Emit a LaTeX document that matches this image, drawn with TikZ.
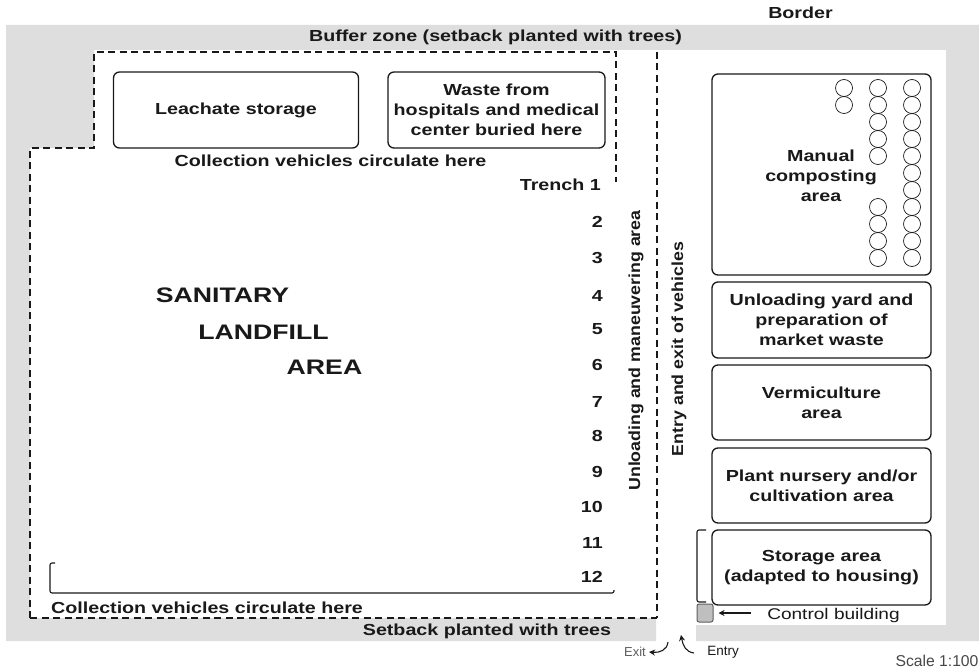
\documentclass[tikz,border=0pt]{standalone}
\usepackage{fontspec}
\setmainfont{Liberation Sans}
\newfontfamily\widefont[FakeStretch=1.23]{Liberation Sans}
\newfontfamily\midfont[FakeStretch=1.11]{Liberation Sans}
\newfontfamily\bigfont[FakeStretch=1.27]{Liberation Sans}
\usetikzlibrary{arrows.meta}
\definecolor{zonegray}{gray}{0.87}
\definecolor{bldgray}{gray}{0.75}
\definecolor{ink}{gray}{0.1}
\tikzset{
  x=1pt,y=-1pt,
  txt/.style={inner sep=0pt,text=ink,align=center,font=\widefont\fontsize{16}{18}\selectfont\bfseries},
  side/.style={txt,rotate=90,font=\midfont\fontsize{16}{18}\selectfont\bfseries},
  big/.style={txt,font=\bigfont\fontsize{21}{24}\selectfont\bfseries},
  thin label/.style={inner sep=0pt,text=ink,font=\widefont\fontsize{15.5}{17}\selectfont},
  area/.style={draw=ink,line width=1.3pt,rounded corners=6pt,inner sep=0pt,align=center,text=ink,font=\widefont\fontsize{16}{20}\selectfont\bfseries},
  dash line/.style={draw=ink,line width=1.7pt,dash pattern=on 7pt off 4.5pt},
  pile/.style={circle,draw=ink,line width=0.7pt,minimum size=17pt,inner sep=0pt},
  num/.style={txt,anchor=east},
  bracket line/.style={draw=ink,line width=1.1pt,rounded corners=2pt},
  pointer/.style={draw=ink,line width=1.1pt,-{Stealth[length=6pt,width=6pt]}}
}
\begin{document}
\begin{tikzpicture}
\useasboundingbox (0,0) rectangle (979,671);
\fill[white] (0,0) rectangle (979,671);
% gray zone
\fill[zonegray] (6,25) -- (979,25) -- (979,641) -- (696,641) -- (696,625) -- (946,625) -- (946,50)
  -- (94,50) -- (94,148) -- (30,148) -- (30,618) -- (656,618) -- (656,641) -- (6,641) -- cycle;
% dashed limits
\draw[dash line] (30,618) -- (30,148) -- (94,148) -- (94,52) -- (616,52) -- (616,182);
\draw[dash line] (30,618) -- (657,618);
\draw[dash line,line width=1.2pt] (657,52) -- (657,618);
% boxes
\node[area,minimum width=245pt,minimum height=76pt] (leach) at (236,110) {Leachate storage};
\node[area,minimum width=217pt,minimum height=76pt] (waste) at (496.5,110) {Waste from\\hospitals and medical\\center buried here};
\node[area,minimum width=219pt,minimum height=201pt] (manual) at (821.5,174.5) {};
\node[area,minimum width=219pt,minimum height=76pt] (unload) at (821.5,320) {Unloading yard and\\preparation of\\market waste};
\node[area,minimum width=219pt,minimum height=75pt] (vermi) at (821.5,402.5) {Vermiculture\\area};
\node[area,minimum width=219pt,minimum height=75pt] (nursery) at (821.5,485.5) {Plant nursery and/or\\cultivation area};
\node[area,minimum width=219pt,minimum height=75pt] (storage) at (821.5,567.5) {Storage area\\(adapted to housing)};
\node[txt,font=\widefont\fontsize{16}{20}\selectfont\bfseries] (mantxt) at (821,176) {Manual\\composting\\area};
% composting piles
\foreach \yy [count=\i] in {88,105} \node[pile] (a\i) at (844,\yy) {};
\foreach \yy [count=\i] in {88,105,122,139,156,207,224,241,258} \node[pile] (b\i) at (878,\yy) {};
\foreach \yy [count=\i] in {88,105,122,139,156,173,190,207,224,241,258} \node[pile] (c\i) at (912,\yy) {};
% labels
\node[txt] (border) at (800.5,13) {Border};
\node[txt] (buffer) at (495.5,37) {Buffer zone (setback planted with trees)};
\node[txt] (coll1) at (330.5,161) {Collection vehicles circulate here};
\node[txt] (coll2) at (207,608) {Collection vehicles circulate here};
\node[txt] (setback) at (487,631) {Setback planted with trees};
\node[num] (t1) at (601,185) {Trench 1};
\foreach \n/\yy in {2/222,3/258,4/296,5/329,6/365,7/402,8/436,9/472,10/507,11/543,12/577}
  \node[num] (t\n) at (603,\yy) {\n};
\node[big] (san) at (222.5,295) {SANITARY};
\node[big] (lan) at (263.5,332) {LANDFILL};
\node[big] (are) at (324.5,367) {AREA};
\node[side] (unman) at (636,350.5) {Unloading and maneuvering area};
\node[side] (entex) at (679,349) {Entry and exit of vehicles};
% trench bracket
\coordinate (b1) at (55,563); \coordinate (b2) at (50,593); \coordinate (b3) at (614,593); \coordinate (b4) at (614,590);
\draw[bracket line] (b1) -- (50,563) -- (b2) -- (b3) -- (b4);
% storage bracket
\coordinate (s1) at (706,530); \coordinate (s2) at (706,602);
\draw[bracket line] (s1) -- (697,530) -- (697,602) -- (s2);
% control building
\node[draw=ink!70,fill=bldgray,line width=1pt,rounded corners=2pt,minimum width=16pt,minimum height=18pt,inner sep=0pt] (ctrl) at (705,613) {};
\node[thin label] (ctrltxt) at (833.5,615) {Control building};
\coordinate (c0) at (751,613);
\draw[pointer] (c0) -- ([xshift=5pt]ctrl.east);
\node[inner sep=0pt,text=ink!70,font=\fontsize{13}{14}\selectfont] (exit) at (635,652) {Exit};
\node[inner sep=0pt,text=ink,font=\fontsize{13.5}{14}\selectfont] (entry) at (723,652) {Entry};
\coordinate (ex0) at (668,642);
\coordinate (en0) at (694,653);
\coordinate (en1) at (681,635);
\draw[pointer] (ex0) .. controls (667,650) and (660,653) .. ([xshift=3pt]exit.east);
\draw[pointer] (en0) .. controls (686,652) and (683,646) .. (en1);
\node[inner sep=0pt,text=ink!80,font=\fontsize{15.7}{17}\selectfont] (scale) at (937,661) {Scale 1:100};
\end{tikzpicture}
\end{document}
